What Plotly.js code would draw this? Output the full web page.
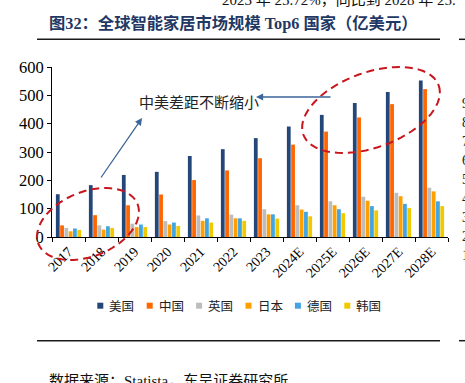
<!DOCTYPE html>
<html><head><meta charset="utf-8">
<script src="https://cdn.plot.ly/plotly-3.0.1.min.js"></script>
<style>html,body{margin:0;padding:0;background:#fff;overflow:hidden}#chart{width:465px;height:383px;}</style>
</head><body><div id="chart"></div>
<script>
// ---- data ----
const years = ['2017','2018','2019','2020','2021','2022','2023','2024E','2025E','2026E','2027E','2028E'];
const usa     = [151,183,219,230,286,310,349,390,431,473,512,552];
const china   = [41,77,112,150,201,235,278,326,372,422,469,522];
const uk      = [32,41,47,56,76,79,98,112,126,142,156,174];
const japan   = [20,26,35,44,57,66,80,97,112,128,144,161];
const germany = [30,38,44,51,66,66,80,89,98,109,117,126];
const korea   = [25,32,35,39,51,57,65,73,84,94,102,109];
const seriesNames = ['美国','中国','英国','日本','德国','韩国'];
const seriesValues = [usa, china, uk, japan, germany, korea];
const seriesColors = ['#24477A','#FF6600','#BDBDBD','#FFA000','#41A5E1','#F2C800'];
const yTicks = [0,100,200,300,400,500,600];
const titleText = '图32：全球智能家居市场规模 Top6 国家（亿美元）';
const noteText = '中美差距不断缩小';
const sourceText = '数据来源：Statista，东吴证券研究所';
const topText = '2023 年 25.72%，同比到 2028 年 25.';
const sideDigits = ['9','8','7','6','5','4','3','2','1'];

// ---- geometry helpers ----
const W=465, H=383, ml=52, mr=17, mt=67, mb=146;
const pw=W-ml-mr, ph=H-mt-mb;
const px = x => (x-ml)/pw;
const py = y => 1-(y-mt)/ph;
const serif = 'Liberation Serif, Noto Sans CJK SC, serif';
const cjk = 'Noto Sans CJK SC, sans-serif';

const traces = seriesValues.map((v,i)=>({
  type:'bar', x:years, y:v, name:seriesNames[i],
  marker:{color:seriesColors[i]}, showlegend:false, hoverinfo:'skip'
}));

function ellipsePath(cx,cy,a,b,deg){
  const t=deg*Math.PI/180; let d='';
  for(let k=0;k<=72;k++){
    const u=k/72*2*Math.PI;
    const x=cx+a*Math.cos(u)*Math.cos(t)-b*Math.sin(u)*Math.sin(t);
    const y=cy+a*Math.cos(u)*Math.sin(t)+b*Math.sin(u)*Math.cos(t);
    d+=(k?'L':'M')+px(x).toFixed(4)+','+py(y).toFixed(4);
  }
  return d+'Z';
}
const shapes=[];
const red={color:'#C8161D',width:2,dash:'8px,5px'};
shapes.push({type:'path',xref:'paper',yref:'paper',path:ellipsePath(88,224,53.4,32.3,-22),line:red});
shapes.push({type:'path',xref:'paper',yref:'paper',path:ellipsePath(371,110,72,37.5,-20),line:red});
[39.3,340.7].forEach(yy=>{
  shapes.push({type:'line',xref:'paper',yref:'paper',x0:px(37),x1:px(440),y0:py(yy),y1:py(yy),line:{color:'#1a1a1a',width:1.5}});
  shapes.push({type:'line',xref:'paper',yref:'paper',x0:px(459),x1:px(466),y0:py(yy),y1:py(yy),line:{color:'#1a1a1a',width:1.5}});
});

const annotations=[];
// title
annotations.push({xref:'paper',yref:'paper',x:px(47),y:py(23.5),xanchor:'left',yanchor:'middle',showarrow:false,
  text:titleText,font:{family:serif,size:16.3,color:'#1F3864',weight:'bold'}});
// partial text at top
annotations.push({xref:'paper',yref:'paper',x:px(220),y:py(0),xanchor:'left',yanchor:'middle',showarrow:false,
  text:topText,font:{family:serif,size:15,color:'#111'}});
// note
annotations.push({xref:'paper',yref:'paper',x:px(137),y:py(101.5),xanchor:'left',yanchor:'middle',showarrow:false,
  text:noteText,font:{family:cjk,size:15,color:'#222'}});
// arrows
annotations.push({xref:'paper',yref:'paper',x:px(142),y:py(118),ax:-42,ay:61,text:'',showarrow:true,
  arrowhead:2,arrowsize:1.1,arrowwidth:1.3,arrowcolor:'#3B6699'});
annotations.push({xref:'paper',yref:'paper',x:px(256),y:py(97),ax:76,ay:0,text:'',showarrow:true,
  arrowhead:2,arrowsize:1.1,arrowwidth:1.3,arrowcolor:'#3B6699'});
// source
annotations.push({xref:'paper',yref:'paper',x:px(47),y:py(381),xanchor:'left',yanchor:'middle',showarrow:false,
  text:sourceText,font:{family:serif,size:15,color:'#111'}});
// side digits (neighbouring chart)
sideDigits.forEach((d,i)=>{
  annotations.push({xref:'paper',yref:'paper',x:px(459.5),y:py(103+i*19.1),xanchor:'left',yanchor:'middle',showarrow:false,
    text:d,font:{family:serif,size:14,color:'#222'}});
});
// legend
seriesNames.forEach((n,i)=>{
  const x0=97.3+i*49.4;
  shapes.push({type:'rect',xref:'paper',yref:'paper',x0:px(x0),x1:px(x0+6),y0:py(302.7),y1:py(308.7),
    fillcolor:seriesColors[i],line:{width:0}});
  annotations.push({xref:'paper',yref:'paper',x:px(x0+10),y:py(305.7),xanchor:'left',yanchor:'middle',showarrow:false,
    text:n,font:{family:cjk,size:12.5,color:'#222'}});
});

const layout={
  width:W,height:H,margin:{l:ml,r:mr,t:mt,b:mb,pad:0},
  paper_bgcolor:'#fff',plot_bgcolor:'#fff',
  barmode:'group',bargap:0.22,bargroupgap:0.12,
  showlegend:false,
  xaxis:{type:'category',showline:true,linecolor:'#000',linewidth:1,ticks:'outside',tickson:'boundaries',
    ticklen:4,tickcolor:'#000',tickangle:-45,tickfont:{family:serif,size:14,color:'#000'},showgrid:false,
    fixedrange:true},
  yaxis:{range:[0,600],tickvals:yTicks,showline:true,linecolor:'#000',linewidth:1,ticks:'outside',ticklen:4,
    tickcolor:'#000',tickfont:{family:serif,size:16.5,color:'#000'},showgrid:false,zeroline:false,fixedrange:true},
  shapes:shapes,annotations:annotations
};
Plotly.newPlot('chart',traces,layout,{displayModeBar:false,staticPlot:true});
</script></body></html>
